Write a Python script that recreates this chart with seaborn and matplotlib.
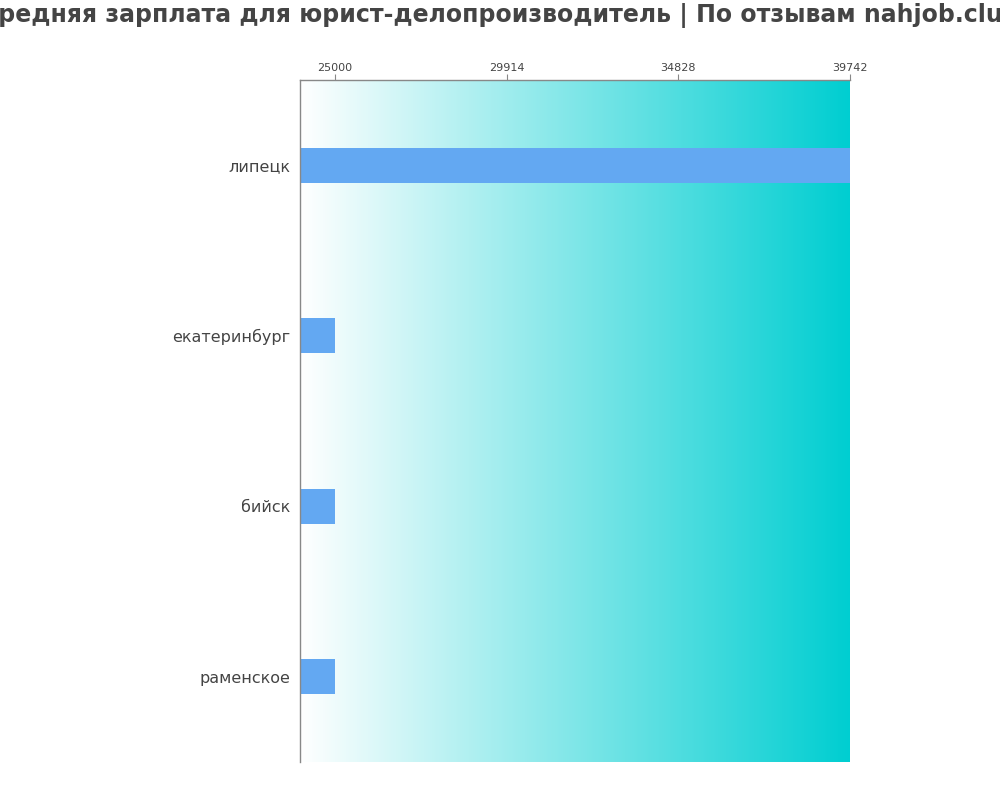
import numpy as np
import pandas as pd
import matplotlib
matplotlib.use("Agg")
import matplotlib.pyplot as plt
from matplotlib.colors import LinearSegmentedColormap
import seaborn as sns

# data
cities = ["липецк", "екатеринбург", "бийск", "раменское"]
salaries = [39742, 25000, 25000, 25000]
tick_values = [25000, 29914, 34828, 39742]
x_min = 24000

title = "Средняя зарплата для юрист-делопроизводитель | По отзывам nahjob.club"

sns.set_style("white")
plt.rcParams["font.family"] = ["DejaVu Sans"]

df = pd.DataFrame({"city": cities, "salary": salaries})

fig = plt.figure(figsize=(10, 8), dpi=100)
ax = fig.add_axes([0.3, 0.0475, 0.55, 0.8525])

# background gradient white -> turquoise
cmap = LinearSegmentedColormap.from_list("bg", ["#ffffff", "#00ced1"])
grad = np.linspace(0, 1, 256).reshape(1, -1)
ax.imshow(grad, aspect="auto", cmap=cmap,
          extent=[x_min, max(tick_values), len(cities) - 0.5, -0.5], zorder=0)

sns.barplot(data=df, x="salary", y="city", orient="h", color="#63a8f2",
            width=0.205, saturation=1, linewidth=0, ax=ax, zorder=2)

ax.set_xlim(x_min, max(tick_values))
ax.set_ylim(len(cities) - 0.5, -0.5)
ax.xaxis.tick_top()
ax.set_xticks(tick_values)
ax.set_xticklabels([str(v) for v in tick_values], fontsize=8, color="#444444")
ax.tick_params(axis="x", length=4, color="#888888", pad=1)
ax.tick_params(axis="y", length=0, labelsize=11.5, labelcolor="#444444", pad=7)
ax.set_xlabel("")
ax.set_ylabel("")

for s in ["right", "bottom"]:
    ax.spines[s].set_visible(False)
for s in ["top", "left"]:
    ax.spines[s].set_color("#888888")
    ax.spines[s].set_linewidth(1)

fig.text(0.5, 0.981, title, ha="center", va="center", fontsize=17,
         fontweight="bold", color="#444444")

fig.savefig("out.png", dpi=100)
